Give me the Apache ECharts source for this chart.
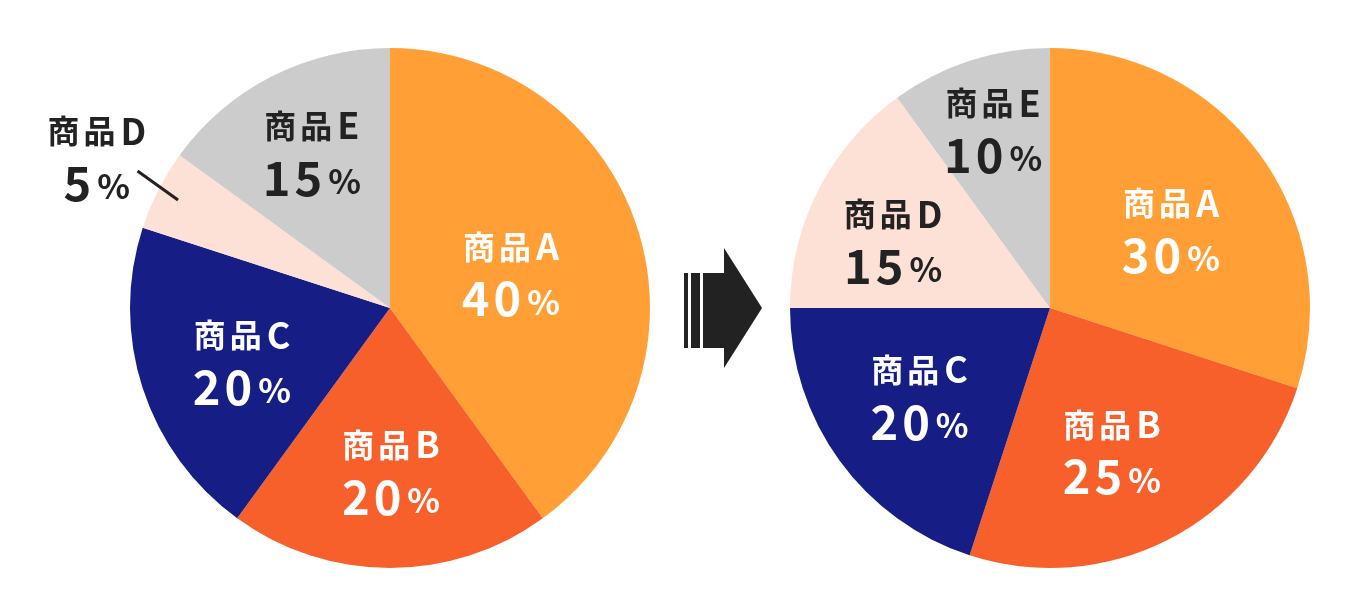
<!DOCTYPE html>
<html>
<head>
<meta charset="utf-8">
<script src="https://cdn.jsdelivr.net/npm/echarts@6/dist/echarts.min.js"></script>
<style>html,body{margin:0;padding:0;background:#fff}#c{width:1370px;height:616px}</style>
</head>
<body>
<div id="c"></div>
<script>
const categories = ['商品A', '商品B', '商品C', '商品D', '商品E'];
const beforeValues = [40, 20, 20, 5, 15];
const afterValues = [30, 25, 20, 15, 10];

const colors = ['#FF9F35', '#F7602B', '#161D85', '#FDE0D6', '#CCCCCC'];
const textColors = ['#fff', '#fff', '#fff', '#222', '#222'];
const R = 260;
const centers = [[390, 308], [1050, 308]];
// radial position of each label (fraction of radius)
const labelFrac = [[0.48, 0.63, 0.61, 1.27, 0.67], [0.55, 0.60, 0.61, 0.66, 0.72]];
const labelNudge = [[2, 0, -2, 0, 0], [3, 4, 2, -4, 0]];
const seriesValues = [beforeValues, afterValues];

function midAngle(vals, i) {
  const total = vals.reduce((a, b) => a + b, 0);
  let cum = 0;
  for (let k = 0; k < i; k++) cum += vals[k];
  return (cum + vals[i] / 2) / total * 360;
}
function polar(c, r, deg) {
  const a = deg * Math.PI / 180;
  return [c[0] + r * Math.sin(a), c[1] - r * Math.cos(a)];
}

function fmt(p) {
  const name = p.name;
  const letter = name.slice(2);
  const digits = String(p.value).split('').map(d => '{d|' + d + '}').join('');
  return '{k|' + name[0] + '}{k|' + name[1] + '}{a|' + letter + '}\n' + digits + '{p|%}';
}

const font = '"Noto Sans CJK JP", "Noto Sans", sans-serif';
function rich() {
  return {
    k: { fontSize: 32, fontWeight: 'bold', fontFamily: font, lineHeight: 50, padding: [0, 2, 0, 2] },
    a: { fontSize: 36, fontWeight: 'bold', fontFamily: font, lineHeight: 50, padding: [0, 0, 0, 3] },
    d: { fontSize: 47, fontWeight: 'bold', fontFamily: font, lineHeight: 54, padding: [0, 2, 0, 2] },
    p: { fontSize: 34, fontWeight: 'bold', fontFamily: font, lineHeight: 54, padding: [6, 0, 0, 4] }
  };
}

function makeSeries(si) {
  const vals = seriesValues[si];
  return {
    type: 'pie',
    center: centers[si],
    radius: R,
    startAngle: 90,
    clockwise: true,
    silent: true,
    animation: false,
    itemStyle: { borderWidth: 0 },
    label: { show: true, position: 'inside', formatter: fmt, rich: rich(), align: 'center' },
    labelLine: { show: false },
    data: categories.map((n, i) => ({
      name: n, value: vals[i],
      itemStyle: { color: colors[i] },
      label: { color: textColors[i] }
    })),
    labelLayout: function (params) {
      const i = params.dataIndex;
      const ang = midAngle(vals, i) + labelNudge[si][i];
      const pos = polar(centers[si], labelFrac[si][i] * R, ang);
      return { x: pos[0], y: pos[1], align: 'center', verticalAlign: 'middle' };
    }
  };
}

// leader lines for labels placed outside their slice, derived from the data angle
const leaders = [];
seriesValues.forEach((vals, si) => {
  vals.forEach((v, i) => {
    if (labelFrac[si][i] > 1) {
      const m = midAngle(vals, i);
      const p1 = polar(centers[si], 0.915 * R, m);
      const p2 = polar(centers[si], 1.105 * R, m + 1.5);
      leaders.push({ type: 'line', z: 100, shape: { x1: p2[0], y1: p2[1], x2: p1[0], y2: p1[1] }, style: { stroke: '#222', lineWidth: 3 } });
    }
  });
});

const chart = echarts.init(document.getElementById('c'), null, { renderer: 'canvas' });
chart.setOption({
  backgroundColor: '#fff',
  animation: false,
  series: [makeSeries(0), makeSeries(1)],
  graphic: leaders.concat([
    { type: 'rect', shape: { x: 684, y: 273, width: 4, height: 75 }, style: { fill: '#222' } },
    { type: 'rect', shape: { x: 691, y: 273, width: 9, height: 75 }, style: { fill: '#222' } },
    { type: 'polygon', shape: { points: [[703, 273], [724, 273], [724, 248], [762, 308], [724, 368], [724, 348], [703, 348]] }, style: { fill: '#222' } }
  ])
});
</script>
</body>
</html>
